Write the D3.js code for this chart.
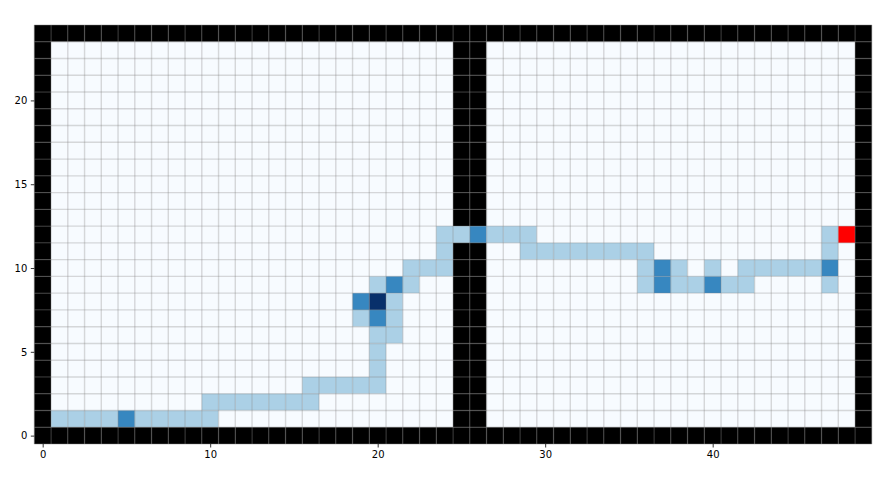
<!DOCTYPE html>
<html>
<head>
<meta charset="utf-8">
<script src="https://cdn.jsdelivr.net/npm/d3@7"></script>
<style>
  html, body { margin: 0; padding: 0; background: #ffffff; }
  svg { display: block; }
  .tick text { font-family: "DejaVu Sans", sans-serif; font-size: 10px; fill: #000; }
  .tick line { stroke: #000; stroke-width: 0.8; }
</style>
</head>
<body>
<svg id="chart" width="888" height="481"></svg>
<script>
// Grid map, top row (y = 24) first. '#' wall, '.' unvisited, digits = visit count, 'G' goal.
const gridRows = [
  "##########" + "##########" + "##########" + "##########" + "##########", // 24
  "#........." + ".........." + ".....##..." + ".........." + ".........#", // 23
  "#........." + ".........." + ".....##..." + ".........." + ".........#", // 22
  "#........." + ".........." + ".....##..." + ".........." + ".........#", // 21
  "#........." + ".........." + ".....##..." + ".........." + ".........#", // 20
  "#........." + ".........." + ".....##..." + ".........." + ".........#", // 19
  "#........." + ".........." + ".....##..." + ".........." + ".........#", // 18
  "#........." + ".........." + ".....##..." + ".........." + ".........#", // 17
  "#........." + ".........." + ".....##..." + ".........." + ".........#", // 16
  "#........." + ".........." + ".....##..." + ".........." + ".........#", // 15
  "#........." + ".........." + ".....##..." + ".........." + ".........#", // 14
  "#........." + ".........." + ".....##..." + ".........." + ".........#", // 13
  "#........." + ".........." + "....112111" + ".........." + ".......1G#", // 12
  "#........." + ".........." + "....1##..1" + "1111111..." + ".......1.#", // 11
  "#........." + ".........." + "..111##..." + "......121." + "1.111112.#", // 10
  "#........." + ".........." + "121..##..." + "......1211" + "211....1.#", // 9
  "#........." + ".........2" + "31...##..." + ".........." + ".........#", // 8
  "#........." + ".........1" + "21...##..." + ".........." + ".........#", // 7
  "#........." + ".........." + "11...##..." + ".........." + ".........#", // 6
  "#........." + ".........." + "1....##..." + ".........." + ".........#", // 5
  "#........." + ".........." + "1....##..." + ".........." + ".........#", // 4
  "#........." + "......1111" + "1....##..." + ".........." + ".........#", // 3
  "#........." + "1111111..." + ".....##..." + ".........." + ".........#", // 2
  "#111121111" + "1........." + ".....##..." + ".........." + ".........#", // 1
  "##########" + "##########" + "##########" + "##########" + "##########"  // 0
];
const maxVisits = 3;
const xTicks = [0, 10, 20, 30, 40];
const yTicks = [0, 5, 10, 15, 20];
const bluesStops = ["#f7fbff","#deebf7","#c6dbef","#9ecae1","#6baed6","#4292c6","#2171b5","#08519c","#08306b"];

gridRows.forEach((r, i) => { if (r.length !== 50) throw new Error("row " + i + " length " + r.length); });

const nRows = gridRows.length, nCols = gridRows[0].length;
const cells = [];
gridRows.forEach((row, i) => {
  const yv = nRows - 1 - i;
  for (let xv = 0; xv < row.length; xv++) cells.push({ x: xv, y: yv, v: row[xv] });
});

const svg = d3.select("#chart");
const x = d3.scaleLinear().domain([-0.5, nCols - 0.5]).range([34.3, 871.8]);
const y = d3.scaleLinear().domain([-0.5, nRows - 0.5]).range([444, 25]);
const blues = d3.scaleLinear().domain(d3.range(bluesStops.length).map(i => i / (bluesStops.length - 1))).range(bluesStops);

function fillOf(v) {
  if (v === "#") return "#000000";
  if (v === "G") return "#ff0000";
  if (v === ".") return blues(0);
  return blues(+v / maxVisits);
}

const g = svg.append("g");
g.selectAll("rect.cell").data(cells).join("rect")
  .attr("class", "cell")
  .attr("x", d => x(d.x - 0.5))
  .attr("y", d => y(d.y + 0.5))
  .attr("width", d => x(d.x + 0.5) - x(d.x - 0.5))
  .attr("height", d => y(d.y - 0.5) - y(d.y + 0.5))
  .attr("fill", d => fillOf(d.v));

const gl = svg.append("g").attr("stroke", "#808080").attr("stroke-opacity", 0.3).attr("stroke-width", 1.4);
gl.selectAll("line.v").data(d3.range(nCols + 1)).join("line")
  .attr("x1", d => x(d - 0.5)).attr("x2", d => x(d - 0.5))
  .attr("y1", y(-0.5)).attr("y2", y(nRows - 0.5));
gl.selectAll("line.h").data(d3.range(nRows + 1)).join("line")
  .attr("y1", d => y(d - 0.5)).attr("y2", d => y(d - 0.5))
  .attr("x1", x(-0.5)).attr("x2", x(nCols - 0.5));

const xAxis = svg.append("g").attr("transform", `translate(0,${y(-0.5)})`)
  .call(d3.axisBottom(x).tickValues(xTicks).tickFormat(d3.format("d")).tickSize(3.5).tickPadding(3.5));
const yAxis = svg.append("g").attr("transform", `translate(${x(-0.5)},0)`)
  .call(d3.axisLeft(y).tickValues(yTicks).tickFormat(d3.format("d")).tickSize(3.5).tickPadding(3.5));
xAxis.select(".domain").remove();
yAxis.select(".domain").remove();
</script>
</body>
</html>
